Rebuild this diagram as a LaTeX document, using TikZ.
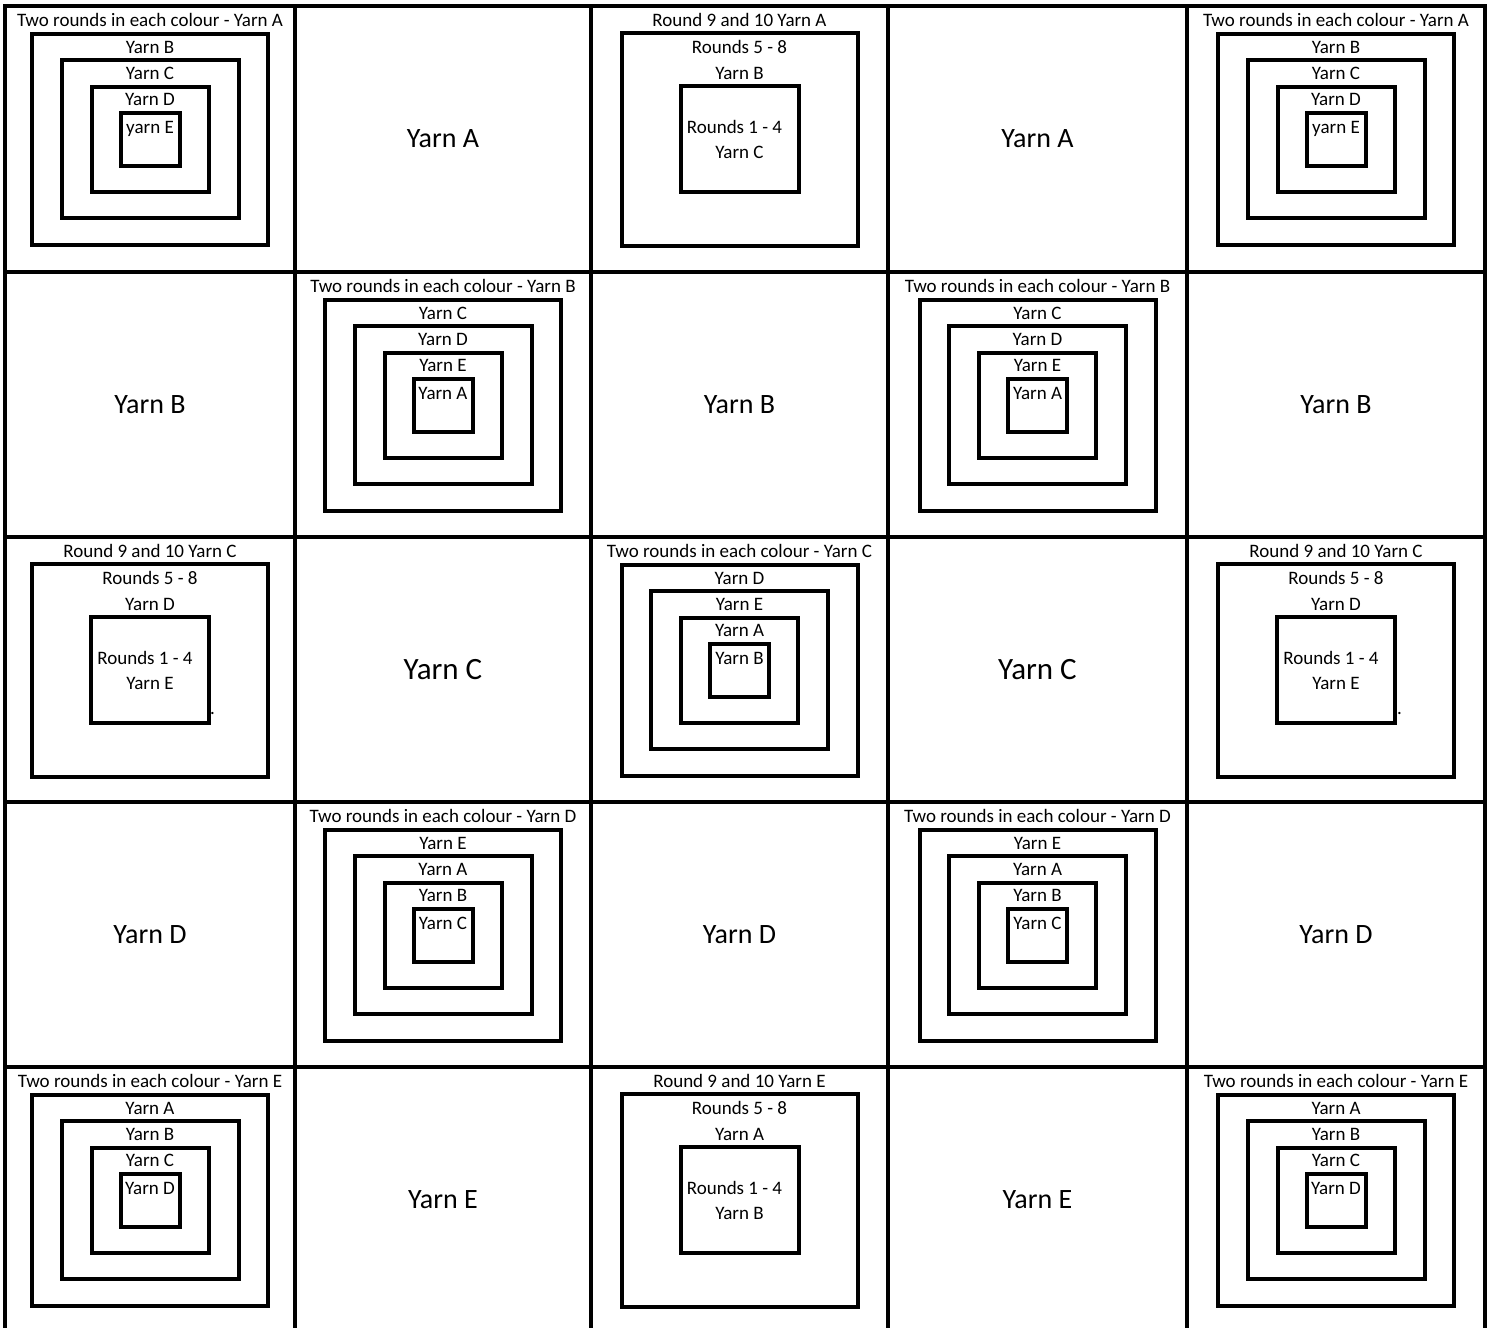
\documentclass[tikz,border=0pt]{standalone}
\usepackage{fontspec}
\setmainfont{Carlito}
\tikzset{
  gridline/.style={line width=4pt, black},
  box/.style={line width=4pt, black},
  small/.style={font=\fontsize{19}{23}\selectfont, inner sep=0pt, anchor=base},
  big/.style={font=\fontsize{28}{34}\selectfont, inner sep=0pt, anchor=base},
  bigger/.style={font=\fontsize{31}{37}\selectfont, inner sep=0pt, anchor=base},
}
% #1 prefix, #2 centre x, #3 cell top, #4 title yarn, #5-#8 ring labels
\newcommand\ringcell[8]{%
  \draw[box] ({#2-118},{#3+27.5}) rectangle ({#2+118},{#3+239});
  \draw[box] ({#2-88.5},{#3+54}) rectangle ({#2+88.5},{#3+212});
  \draw[box] ({#2-58.5},{#3+80.5}) rectangle ({#2+58.5},{#3+186});
  \draw[box] ({#2-29.5},{#3+106.5}) rectangle ({#2+29.5},{#3+159.5});
  \node[small] (#1-t) at (#2,{#3+20.5}) {Two rounds in each colour - #4};
  \node[small] (#1-a) at (#2,{#3+47}) {#5};
  \node[small] (#1-b) at (#2,{#3+73}) {#6};
  \node[small] (#1-c) at (#2,{#3+99}) {#7};
  \node[small] (#1-d) at (#2,{#3+127}) {#8};
}
% #1 prefix, #2 centre x, #3 cell top, #4 outer, #5 middle, #6 inner
\newcommand\roundcell[6]{%
  \draw[box] ({#2-118},{#3+26.5}) rectangle ({#2+118},{#3+239.5});
  \draw[box] ({#2-59},{#3+80}) rectangle ({#2+59},{#3+185.5});
  \node[small] (#1-t) at (#2,{#3+20}) {Round 9 and 10 #4};
  \node[small] (#1-a) at (#2,{#3+47}) {Rounds 5 - 8};
  \node[small] (#1-b) at (#2,{#3+73}) {#5};
  \node[small] (#1-c) at ({#2-5},{#3+127}) {Rounds 1 - 4};
  \node[small] (#1-d) at (#2,{#3+152}) {#6};
}
\begin{document}
\begin{tikzpicture}[x=1pt,y=-1pt]
\useasboundingbox (0,0) rectangle (1494,1328);
\clip (0,0) rectangle (1494,1328);
\fill[white] (0,0) rectangle (1494,1328);
% grid
\draw[gridline] (5,6) rectangle (1485,1332);
\foreach \gx in {295,591,888,1187} \draw[gridline] (\gx,6) -- (\gx,1332);
\foreach \gy in {272,537,802,1067} \draw[gridline] (5,\gy) -- (1485,\gy);
% row 0
\ringcell{r0c0}{150}{6}{Yarn A}{Yarn B}{Yarn C}{Yarn D}{yarn E}
\node[big] (r0c1) at (443,147.5) {Yarn A};
\roundcell{r0c2}{739.5}{6}{Yarn A}{Yarn B}{Yarn C}
\node[big] (r0c3) at (1037.5,147.5) {Yarn A};
\ringcell{r0c4}{1336}{6}{Yarn A}{Yarn B}{Yarn C}{Yarn D}{yarn E}
% row 1
\node[big] (r1c0) at (150,413.5) {Yarn B};
\ringcell{r1c1}{443}{272}{Yarn B}{Yarn C}{Yarn D}{Yarn E}{Yarn A}
\node[big] (r1c2) at (739.5,413.5) {Yarn B};
\ringcell{r1c3}{1037.5}{272}{Yarn B}{Yarn C}{Yarn D}{Yarn E}{Yarn A}
\node[big] (r1c4) at (1336,413.5) {Yarn B};
% row 2
\roundcell{r2c0}{150}{537}{Yarn C}{Yarn D}{Yarn E}
\node[small, anchor=base west] (r2c0-dot) at (210,714) {.};
\node[bigger] (r2c1) at (443,679.5) {Yarn C};
\ringcell{r2c2}{739.5}{537}{Yarn C}{Yarn D}{Yarn E}{Yarn A}{Yarn B}
\node[bigger] (r2c3) at (1037.5,679.5) {Yarn C};
\roundcell{r2c4}{1336}{537}{Yarn C}{Yarn D}{Yarn E}
\node[small, anchor=base west] (r2c4-dot) at (1397,714) {.};
% row 3
\node[big] (r3c0) at (150,943.5) {Yarn D};
\ringcell{r3c1}{443}{802}{Yarn D}{Yarn E}{Yarn A}{Yarn B}{Yarn C}
\node[big] (r3c2) at (739.5,943.5) {Yarn D};
\ringcell{r3c3}{1037.5}{802}{Yarn D}{Yarn E}{Yarn A}{Yarn B}{Yarn C}
\node[big] (r3c4) at (1336,943.5) {Yarn D};
% row 4
\ringcell{r4c0}{150}{1067}{Yarn E}{Yarn A}{Yarn B}{Yarn C}{Yarn D}
\node[big] (r4c1) at (443,1208.5) {Yarn E};
\roundcell{r4c2}{739.5}{1067}{Yarn E}{Yarn A}{Yarn B}
\node[big] (r4c3) at (1037.5,1208.5) {Yarn E};
\ringcell{r4c4}{1336}{1067}{Yarn E}{Yarn A}{Yarn B}{Yarn C}{Yarn D}
\end{tikzpicture}
\end{document}
